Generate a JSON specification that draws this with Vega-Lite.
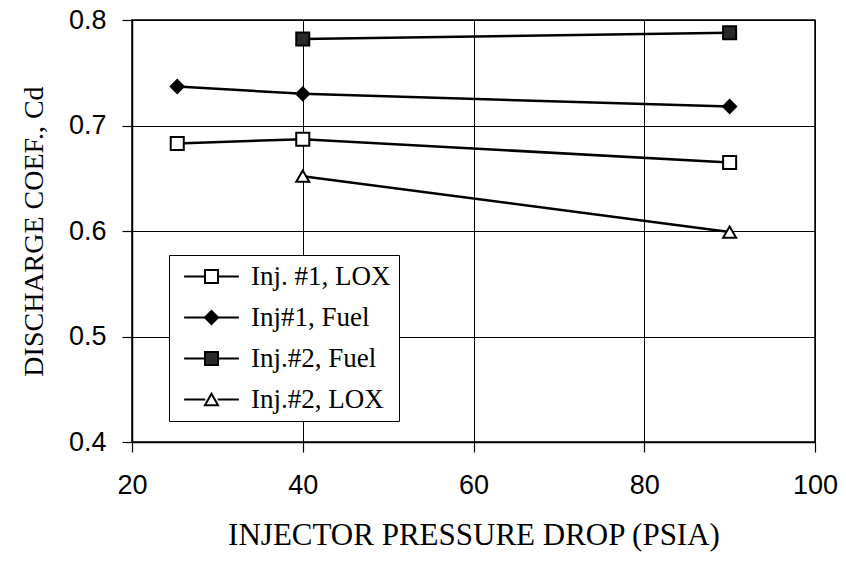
{
  "$schema": "https://vega.github.io/schema/vega-lite/v6.json",
  "width": 683,
  "height": 422,
  "autosize": {"type": "none"},
  "padding": {"left": 132, "top": 20, "right": 31, "bottom": 121},
  "background": "white",
  "config": {
    "view": {"stroke": "black", "strokeWidth": 1.5},
    "axis": {
      "domainColor": "black", "domainWidth": 1.5,
      "tickColor": "black", "tickWidth": 1.2, "tickSize": 10,
      "gridColor": "black", "gridOpacity": 1, "gridWidth": 1,
      "labelFont": "Liberation Sans", "labelFontSize": 27, "labelColor": "black",
      "labelFlush": false, "labelOverlap": false,
      "titleFont": "Liberation Serif", "titleFontWeight": "normal", "titleColor": "black"
    }
  },
  "data": {
    "values": [
      {"series": "Inj. #1, LOX", "psi": 25.3, "cd": 0.683},
      {"series": "Inj. #1, LOX", "psi": 40, "cd": 0.687},
      {"series": "Inj. #1, LOX", "psi": 90, "cd": 0.665},
      {"series": "Inj#1, Fuel", "psi": 25.3, "cd": 0.737},
      {"series": "Inj#1, Fuel", "psi": 40, "cd": 0.730},
      {"series": "Inj#1, Fuel", "psi": 90, "cd": 0.718},
      {"series": "Inj.#2, Fuel", "psi": 40, "cd": 0.782},
      {"series": "Inj.#2, Fuel", "psi": 90, "cd": 0.788},
      {"series": "Inj.#2, LOX", "psi": 40, "cd": 0.652},
      {"series": "Inj.#2, LOX", "psi": 90, "cd": 0.599}
    ]
  },
  "encoding": {
    "x": {
      "field": "psi", "type": "quantitative",
      "scale": {"domain": [20, 100], "zero": false, "nice": false},
      "axis": {"values": [20, 40, 60, 80, 100], "title": "INJECTOR PRESSURE DROP (PSIA)", "titleFontSize": 31, "labelPadding": 20, "titlePadding": 22, "grid": true}
    },
    "y": {
      "field": "cd", "type": "quantitative",
      "scale": {"domain": [0.4, 0.8], "zero": false, "nice": false},
      "axis": {"values": [0.4, 0.5, 0.6, 0.7, 0.8], "format": ".1f", "title": "DISCHARGE COEF., Cd", "titleFontSize": 28, "labelPadding": 16, "titlePadding": 20, "grid": true}
    }
  },
  "layer": [
    {
      "mark": {"type": "line", "color": "black", "strokeWidth": 2.5},
      "encoding": {"detail": {"field": "series"}}
    },
    {
      "mark": {"type": "point", "filled": true, "stroke": "black", "strokeWidth": 2, "opacity": 1, "size": 170},
      "encoding": {
        "shape": {
          "field": "series", "type": "nominal",
          "scale": {"domain": ["Inj. #1, LOX", "Inj#1, Fuel", "Inj.#2, Fuel", "Inj.#2, LOX"], "range": ["square", "diamond", "square", "triangle-up"]},
          "legend": {
            "orient": "none", "legendX": 37, "legendY": 235, "zindex": 2,
            "title": null, "padding": 8,
            "labelFont": "Liberation Serif", "labelFontSize": 27, "labelOpacity": 0, "labelOffset": 26, "labelLimit": 300,
            "symbolSize": 170, "symbolStrokeWidth": 2, "symbolOpacity": 1, "symbolOffset": 21,
            "rowPadding": 13
          }
        },
        "fill": {
          "field": "series", "type": "nominal",
          "scale": {"domain": ["Inj. #1, LOX", "Inj#1, Fuel", "Inj.#2, Fuel", "Inj.#2, LOX"], "range": ["white", "black", "#2a2a2a", "white"]},
          "legend": {
            "orient": "none", "legendX": 37, "legendY": 235, "zindex": 2,
            "title": null, "padding": 8,
            "labelFont": "Liberation Serif", "labelFontSize": 27, "labelOpacity": 0, "labelOffset": 26, "labelLimit": 300,
            "symbolSize": 170, "symbolStrokeWidth": 2, "symbolOpacity": 1, "symbolOffset": 21,
            "rowPadding": 13
          }
        }
      }
    },
    {
      "mark": {"type": "point", "filled": true, "stroke": "black", "strokeWidth": 2, "opacity": 0, "size": 170},
      "encoding": {
        "color": {
          "field": "series", "type": "nominal",
          "sort": ["Inj. #1, LOX", "Inj#1, Fuel", "Inj.#2, Fuel", "Inj.#2, LOX"],
          "scale": {"range": ["black", "black", "black", "black"]},
          "legend": {
            "orient": "none", "legendX": 37, "legendY": 235, "zindex": 1,
            "title": null,
            "strokeColor": "black", "fillColor": "white", "padding": 8,
            "labelFont": "Liberation Serif", "labelFontSize": 27, "labelColor": "black", "labelOffset": 26, "labelLimit": 300,
            "symbolType": "M-4.2,0H-0.95M0.95,0H4.2",
            "symbolSize": 170, "symbolStrokeWidth": 2, "symbolOpacity": 1, "symbolOffset": 21,
            "rowPadding": 13
          }
        }
      }
    }
  ]
}
